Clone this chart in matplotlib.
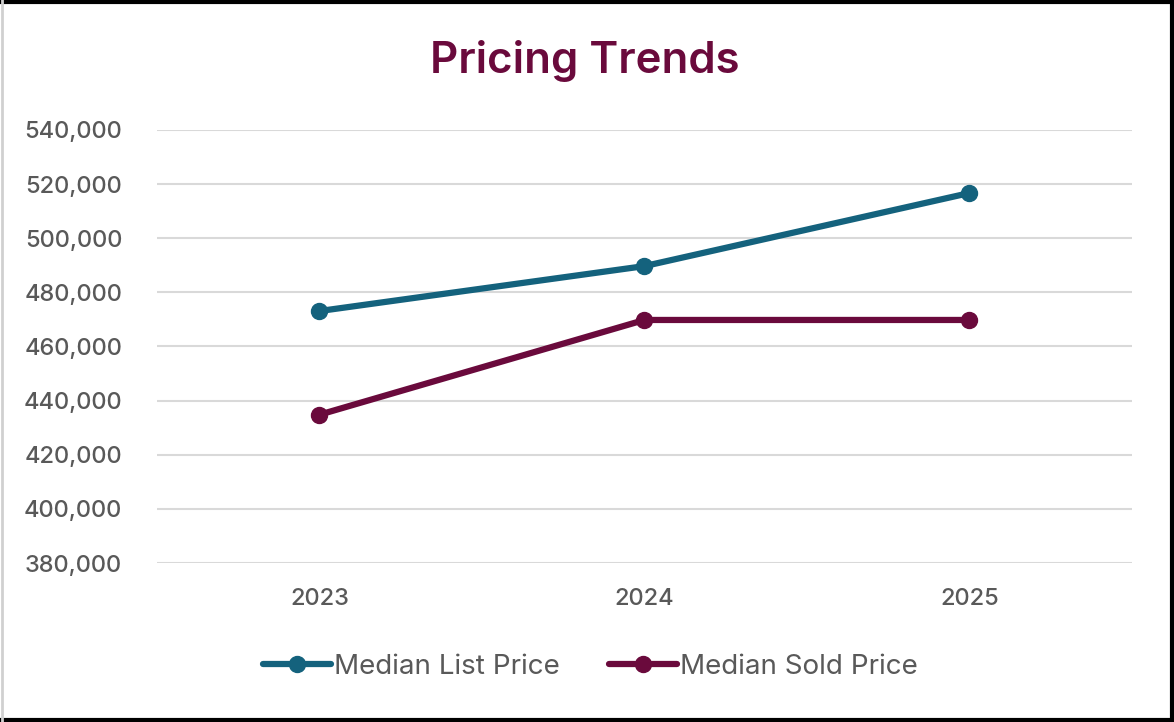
import matplotlib
matplotlib.use("Agg")
import matplotlib.pyplot as plt
from matplotlib.lines import Line2D
from matplotlib.ticker import FuncFormatter

years = ["2023", "2024", "2025"]
list_price = [473100, 489700, 516700]
sold_price = [434800, 469800, 469800]
series_names = ["Median List Price", "Median Sold Price"]

BLUE = "#14627D"
MAROON = "#6A0A3C"
TEXT = "#595959"

plt.rcParams["font.family"] = ["Inter", "DejaVu Sans"]

fig = plt.figure(figsize=(11.74, 7.22), dpi=100)
ax = fig.add_axes([0.1337, 0.2202, 0.8305, 0.5998])

x = range(len(years))
for vals, color in [(list_price, BLUE), (sold_price, MAROON)]:
    ax.plot(x, vals, color=color, linewidth=4.5, marker="o", markersize=11.5,
            solid_capstyle="round", zorder=3)

ax.set_xlim(-0.5, 2.5)
ax.set_ylim(380000, 540000)
ax.set_yticks(range(380000, 540001, 20000))
ax.yaxis.set_major_formatter(FuncFormatter(lambda v, _: f"{int(v):,}"))
ax.set_xticks(list(x))
ax.set_xticklabels(years)
ax.tick_params(axis="both", length=0, labelsize=17, labelcolor=TEXT)
for lbl in ax.get_xticklabels() + ax.get_yticklabels():
    lbl.set_fontweight("medium")
ax.tick_params(axis="y", pad=25)
ax.tick_params(axis="x", pad=18)
ax.grid(axis="y", color="#D9D9D9", linewidth=1.5)
ax.set_axisbelow(True)
for s in ax.spines.values():
    s.set_visible(False)

fig.text(0.498, 0.915, "Pricing Trends", ha="center", va="center",
         fontsize=31.5, fontweight="semibold", color=MAROON)

handles = [Line2D([], [], color=c, linewidth=4.5, marker="o", markersize=11.5,
                  solid_capstyle="round") for c in (BLUE, MAROON)]
fig.legend(handles, series_names, loc="center", bbox_to_anchor=(0.503, 0.076),
           ncol=2, frameon=False, fontsize=20, labelcolor=TEXT,
           handlelength=2.45, handletextpad=0.12, columnspacing=1.75)

# outer frame of the chart image
fig.add_artist(Line2D([0, 1], [0.997, 0.997], transform=fig.transFigure, color="black", linewidth=3))
fig.add_artist(Line2D([0.998, 0.998], [0, 1], transform=fig.transFigure, color="black", linewidth=3))
fig.add_artist(Line2D([0, 1], [0.003, 0.003], transform=fig.transFigure, color="black", linewidth=3))
fig.add_artist(Line2D([0.002, 0.002], [0, 1], transform=fig.transFigure, color="#D0D0D0", linewidth=2))

fig.savefig("out.png", dpi=100)
